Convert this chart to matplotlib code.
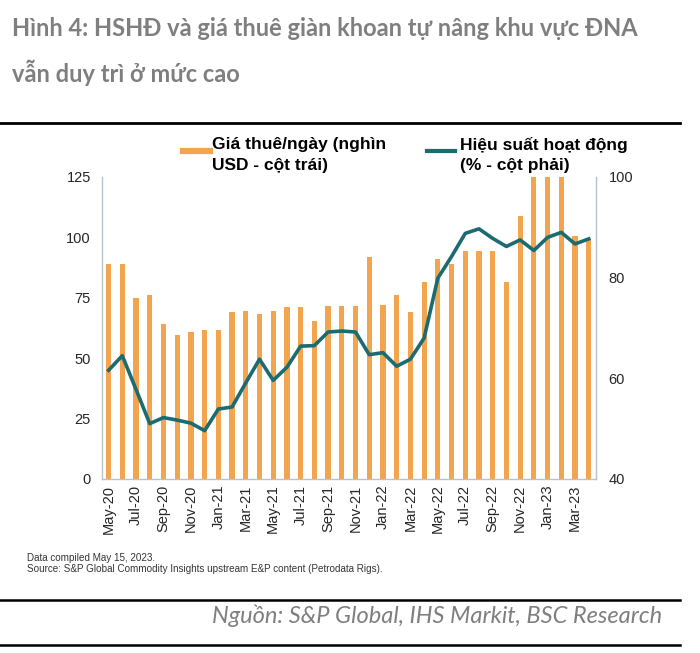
import matplotlib
matplotlib.use("Agg")
import matplotlib.pyplot as plt
from matplotlib.lines import Line2D
import numpy as np

months = ["May-20","Jun-20","Jul-20","Aug-20","Sep-20","Oct-20","Nov-20","Dec-20",
          "Jan-21","Feb-21","Mar-21","Apr-21","May-21","Jun-21","Jul-21","Aug-21",
          "Sep-21","Oct-21","Nov-21","Dec-21","Jan-22","Feb-22","Mar-22","Apr-22",
          "May-22","Jun-22","Jul-22","Aug-22","Sep-22","Oct-22","Nov-22","Dec-22",
          "Jan-23","Feb-23","Mar-23","Apr-23"]
day_rate = [89, 89, 75, 76, 64, 59.5, 61, 61.5,
            61.5, 69, 69.5, 68.5, 69.5, 71, 71, 65.5,
            71.5, 71.5, 71.5, 92, 72, 76, 69, 81.5,
            91, 89, 94.5, 94.5, 94.5, 81.5, 109, 125,
            125, 125, 100.5, 99.5]
utilization = [61.6, 64.5, 57.8, 51.0, 52.2, 51.7, 51.1, 49.6,
               53.9, 54.3, 59.1, 63.8, 59.6, 62.2, 66.4, 66.5,
               69.2, 69.4, 69.2, 64.7, 65.1, 62.4, 63.8, 68.0,
               79.9, 84.2, 88.8, 89.7, 87.8, 86.2, 87.5, 85.4,
               88.0, 89.0, 86.7, 87.7]
left_ticks = [0, 25, 50, 75, 100, 125]
right_ticks = [40, 60, 80, 100]
legend_bar = ["Giá thuê/ngày (nghìn", "USD - cột trái)"]
legend_line = ["Hiệu suất hoạt động", "(% - cột phải)"]

BAR = "#F2A54E"
LINE = "#1C6B70"
GRAY = "#7F7F7F"

W, H = 700, 653
fig = plt.figure(figsize=(7, 6.53), dpi=100)

def fx(px): return px / W
def fy(py): return 1 - py / H

ax = fig.add_axes([fx(102), fy(479), fx(596) - fx(102), fy(177) - fy(479)])
x = np.arange(len(months))
ax.bar(x, day_rate, width=0.38, color=BAR, zorder=2)
ax.set_xlim(-0.48, len(months) - 0.47)
ax.set_ylim(0, 125)
ax.set_yticks(left_ticks)
ax.set_xticks(x[::2])
ax.set_xticklabels(months[::2], rotation=90, fontsize=10.5, family="Liberation Sans", color="#262626")
ax.tick_params(axis="both", length=0, labelsize=10.5, colors="#262626")
ax.tick_params(axis="y", pad=8)
ax.tick_params(axis="x", pad=4)
for lab in ax.get_yticklabels():
    lab.set_family("Liberation Sans")
ax.spines["top"].set_visible(False)
for s in ["left", "bottom", "right"]:
    ax.spines[s].set_color("#B8C2CC")
    ax.spines[s].set_linewidth(1.0)

ax2 = ax.twinx()
ax2.plot(x, utilization, color=LINE, lw=2.6, zorder=3, solid_joinstyle="round")
ax2.set_ylim(40, 100)
ax2.set_yticks(right_ticks)
ax2.tick_params(axis="y", length=0, labelsize=10.5, colors="#262626", pad=9)
for lab in ax2.get_yticklabels():
    lab.set_family("Liberation Sans")
for s in ["top", "left", "bottom"]:
    ax2.spines[s].set_visible(False)
ax2.spines["right"].set_color("#B8C2CC")
ax2.set_xlim(ax.get_xlim())

# Legend (manual)
fig.add_artist(Line2D([fx(183), fx(210)], [fy(151), fy(151)], color=BAR, lw=4.5))
fig.add_artist(Line2D([fx(427), fx(455)], [fy(151), fy(151)], color=LINE, lw=3))
for xpos, lines in [(212, legend_bar), (460, legend_line)]:
    for k, txt in enumerate(lines):
        fig.text(fx(xpos), fy(145 + 21 * k), txt, fontsize=12.5, fontweight="bold",
                 family="Liberation Sans", va="center", ha="left", color="black")

# Title
fig.text(fx(12), fy(28), "Hình 4: HSHĐ và giá thuê giàn khoan tự nâng khu vực ĐNA",
         fontsize=17, fontweight="bold", family="Lato", color=GRAY, va="center", ha="left")
fig.text(fx(12), fy(73), "vẫn duy trì ở mức cao",
         fontsize=17, fontweight="bold", family="Lato", color=GRAY, va="center", ha="left")

# Horizontal rules
fig.add_artist(Line2D([0, fx(680)], [fy(123), fy(123)], color="black", lw=2))
fig.add_artist(Line2D([0, fx(680)], [fy(600), fy(600)], color="black", lw=1.8))
fig.add_artist(Line2D([0, fx(680)], [fy(645), fy(645)], color="black", lw=1.8))

# Footnote
fig.text(fx(27), fy(558), "Data compiled May 15, 2023.", fontsize=7.1,
         family="Liberation Sans", color="#333333", va="center", ha="left")
fig.text(fx(27), fy(569), "Source: S&P Global Commodity Insights upstream E&P content (Petrodata Rigs).",
         fontsize=7.1, family="Liberation Sans", color="#333333", va="center", ha="left")

# Source
fig.text(fx(662), fy(616), "Nguồn: S&P Global, IHS Markit, BSC Research", fontsize=17,
         style="italic", family="Lato", color=GRAY, va="center", ha="right")

fig.savefig("out.png", dpi=100)
